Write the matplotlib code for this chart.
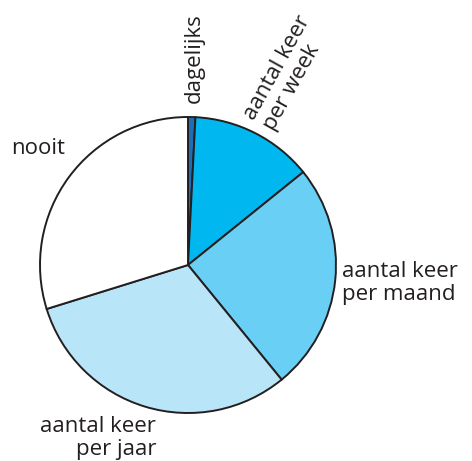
import matplotlib
matplotlib.use("Agg")
import matplotlib.pyplot as plt

# Frequency categories, clockwise from the top
categories = ["dagelijks", "aantal keer\nper week", "aantal keer\nper maand",
              "aantal keer\nper jaar", "nooit"]
shares = [0.8, 13.4, 24.9, 31.1, 29.8]
colors = ["#1f6db5", "#00b8ef", "#6acff5", "#b9e5f9", "#ffffff"]

W, H = 472, 461
fig = plt.figure(figsize=(W / 100, H / 100), dpi=100)
ax = fig.add_axes([0, 0, 1, 1])

cx, cy, r = 188, H - 265, 148
ax.pie(shares, colors=colors, startangle=90, counterclock=False,
       center=(cx, cy), radius=r, frame=True,
       wedgeprops=dict(edgecolor="#231f20", linewidth=1.4))
ax.set_xlim(0, W)
ax.set_ylim(0, H)
ax.set_aspect("equal")
ax.axis("off")

font = dict(family="Open Sans", fontsize=16, color="#231f20", linespacing=1.08)

ax.text(11, H - 148, categories[4], ha="left", va="center", **font)
ax.text(342, H - 283, categories[2], ha="left", va="center", **font)
ax.text(156, H - 438, categories[3], ha="right", va="center", multialignment="right", **font)
ax.text(194, H - 103, categories[0], ha="left", va="center", rotation=90,
        rotation_mode="anchor", **font)
ax.text(259, H - 124, categories[1], ha="left", va="center", rotation=61,
        rotation_mode="anchor", multialignment="left", **font)

fig.savefig("out.png", dpi=100)
